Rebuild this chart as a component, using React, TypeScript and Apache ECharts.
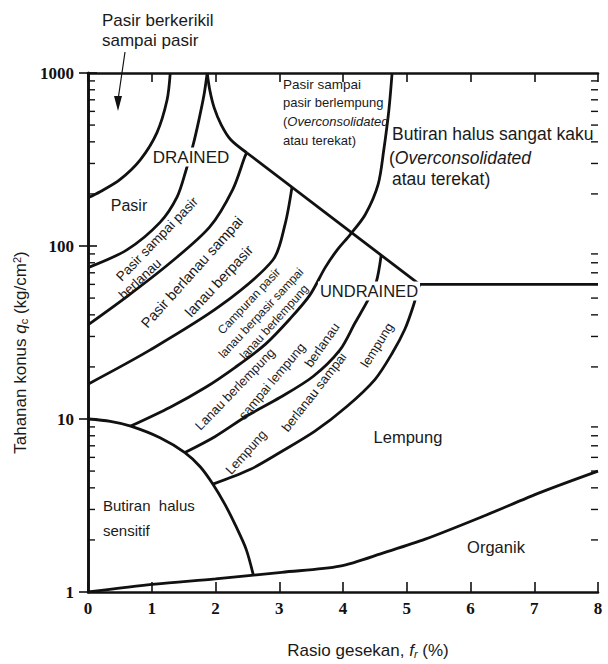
import React, { useEffect, useRef } from 'react';
import * as echarts from 'echarts';

// Axis ticks
const xTickValues = [0, 1, 2, 3, 4, 5, 6, 7, 8];
const yTickValues = [1, 10, 100, 1000];
const yMinorTickValues = [2, 3, 4, 5, 6, 7, 8, 9, 20, 30, 40, 50, 60, 70, 80, 90, 200, 300, 400, 500, 600, 700, 800, 900];

// Zone boundaries: [friction ratio fr (%), cone resistance qc (kg/cm2)]
const gravellySandBoundary = [[1.29, 1000], [1.24, 698], [1.08, 451], [0.82, 315], [0.5, 242], [0.19, 206], [0, 190]];
const sandBoundary = [[0, 75], [0.61, 95], [1.13, 137], [1.4, 193], [1.54, 276], [1.65, 385], [1.74, 536], [1.82, 748], [1.87, 1000]];
const siltySandBoundary = [[0, 35], [0.61, 51], [1.29, 80], [1.91, 129], [2.27, 212], [2.46, 328], [2.49, 346]];
const sandySiltBoundary = [[0, 15.9], [0.97, 25], [2.07, 45], [2.9, 83], [3.09, 133], [3.2, 219]];
const clayeySiltBoundary = [[0.67, 9.1], [1.29, 11.7], [1.84, 15.2], [2.31, 19.9], [2.78, 27], [3.17, 38], [3.48, 52], [3.72, 75], [3.91, 95], [4.11, 116], [4.35, 152], [4.55, 226], [4.64, 360], [4.72, 612], [4.77, 1000]];
const siltyClayBoundary = [[1.52, 6.4], [1.99, 7.9], [2.49, 10.4], [3.01, 13.3], [3.53, 17.6], [3.95, 25], [4.19, 36], [4.38, 47.8], [4.52, 61.5], [4.6, 89]];
const clayBoundary = [[1.96, 4.2], [2.54, 5.1], [3.01, 6.4], [3.56, 8.5], [4.06, 11.8], [4.5, 16.9], [4.78, 24.3], [4.97, 33], [5.1, 44.7], [5.2, 60]];
const sensitiveBoundary = [[0, 10], [0.35, 9.7], [0.67, 9.1], [1.13, 7.8], [1.52, 6.4], [1.76, 5.3], [1.96, 4.2], [2.15, 3.2], [2.32, 2.4], [2.48, 1.77], [2.59, 1.27]];
const organicBoundary = [[0, 1], [1.05, 1.11], [2, 1.19], [3.04, 1.3], [3.95, 1.41], [4.67, 1.7], [5.29, 2.02], [6.2, 2.74], [7.11, 3.78], [8, 5]];
const ocSandBoundary = [[1.87, 1000], [1.91, 798], [1.98, 629], [2.09, 502], [2.24, 411], [2.49, 346]];
const drainedLine = [[2.49, 346], [5.2, 60]];
const stiffLine = [[5.2, 60], [8, 60]];

const LABEL_FONT = '"Liberation Sans", Arial, sans-serif';
const TEXT_COLOR = '#1a1a1a';

type Lbl = { t: string; x: number; y: number; r?: number; s?: number; a?: string; bg?: boolean };

const labels: Lbl[] = [
  { t: 'Pasir berkerikil', x: 102, y: 20, s: 17, a: 'left' },
  { t: 'sampai pasir', x: 102, y: 40, s: 17, a: 'left' },
  { t: 'DRAINED', x: 191, y: 157, s: 17, bg: true },
  { t: 'Pasir', x: 129, y: 205, s: 16 },
  { t: 'Pasir sampai pasir', x: 157, y: 239, r: 46, s: 13.5 },
  { t: 'berlanau', x: 140, y: 279, r: 43, s: 13.5 },
  { t: 'Pasir berlanau sampai', x: 192, y: 272, r: 48, s: 14.5 },
  { t: 'lanau berpasir', x: 219, y: 281, r: 47, s: 14.5 },
  { t: 'Campuran pasir', x: 249, y: 301, r: 47, s: 12 },
  { t: 'lanau berpasir sampai', x: 261, y: 313, r: 47, s: 12 },
  { t: 'lanau berlempung', x: 274, y: 322, r: 48, s: 12 },
  { t: 'Lanau berlempung', x: 235, y: 389, r: 46, s: 13 },
  { t: 'sampai lempung', x: 272, y: 381, r: 50, s: 13 },
  { t: 'berlanau', x: 322, y: 345, r: 55, s: 13 },
  { t: 'Lempung', x: 246, y: 452, r: 48, s: 13 },
  { t: 'berlanau sampai', x: 314, y: 392, r: 52, s: 13 },
  { t: 'lempung', x: 377, y: 345, r: 58, s: 13 },
  { t: 'Lempung', x: 408, y: 437, s: 16.5 },
  { t: 'Butiran  halus', x: 103, y: 505, s: 15, a: 'left' },
  { t: 'sensitif', x: 103, y: 530, s: 15, a: 'left' },
  { t: 'Organik', x: 496, y: 547, s: 16.5 },
  { t: 'Butiran halus sangat kaku', x: 392, y: 134, s: 17.5, a: 'left' },
  { t: '({i|Overconsolidated}', x: 389, y: 158, s: 17.5, a: 'left' },
  { t: 'atau terekat)', x: 392, y: 179, s: 17.5, a: 'left' },
  { t: 'Pasir sampai', x: 283, y: 84, s: 13.5, a: 'left' },
  { t: 'pasir berlempung', x: 283, y: 102, s: 13, a: 'left' },
  { t: '({i|Overconsolidated}', x: 283, y: 121, s: 13, a: 'left' },
  { t: 'atau terekat)', x: 283, y: 140, s: 13, a: 'left' },
  { t: 'UNDRAINED', x: 369, y: 291, s: 16.5, bg: true },
];

const xMin = xTickValues[0];
const xMax = xTickValues[xTickValues.length - 1];

function baseGraphics(): any[] {
  const texts = labels.map((l) => {
    const size = l.s || 14;
    return {
      type: 'text',
      x: l.x,
      y: l.y,
      rotation: ((l.r || 0) * Math.PI) / 180,
      z: 100,
      silent: true,
      style: {
        text: l.t,
        font: `${size}px ${LABEL_FONT}`,
        fill: TEXT_COLOR,
        align: l.a || 'center',
        verticalAlign: 'middle',
        backgroundColor: l.bg ? '#fff' : undefined,
        padding: l.bg ? [1, 2] : 0,
        rich: {
          i: { font: `italic ${size}px ${LABEL_FONT}`, fill: TEXT_COLOR },
        },
      },
    };
  });
  return [
    ...texts,
    { type: 'line', z: 100, silent: true, shape: { x1: 125, y1: 52, x2: 118, y2: 100 }, style: { stroke: '#111', lineWidth: 1.2 } },
    { type: 'polygon', z: 100, silent: true, shape: { points: [[114, 96], [122, 96], [118, 111]] }, style: { fill: '#111' } },
  ];
}

function buildOption() {
  const boundary = (name: string, data: number[][], smooth: number | boolean = 0.3) => ({
    type: 'line',
    name,
    data,
    showSymbol: false,
    symbol: 'none',
    smooth,
    silent: true,
    z: 3,
    lineStyle: { color: '#111', width: 2.8 },
  });

  const axisLine = { show: true, lineStyle: { color: '#111', width: 2.6 } };
  const tickLabel = {
    fontFamily: '"Liberation Serif", "DejaVu Serif", serif',
    fontWeight: 'bold',
    fontSize: 17,
    color: '#111',
  };

  return {
    animation: false,
    backgroundColor: '#fff',
    grid: { left: 88, right: 10, top: 73, bottom: 71, containLabel: false },
    xAxis: [
      {
        type: 'value',
        min: xMin,
        max: xMax,
        interval: 1,
        position: 'bottom',
        axisLine,
        axisTick: { show: true, inside: true, length: 10, lineStyle: { color: '#111', width: 1.6 } },
        axisLabel: { ...tickLabel, margin: 8 },
        splitLine: { show: false },
        name: 'Rasio gesekan, {i|f}{s|r} (%)',
        nameLocation: 'middle',
        nameGap: 49,
        nameTextStyle: {
          fontFamily: LABEL_FONT,
          fontSize: 17,
          color: TEXT_COLOR,
          padding: [0, 0, 0, 50],
          rich: {
            i: { fontFamily: LABEL_FONT, fontSize: 17, fontStyle: 'italic', color: TEXT_COLOR },
            s: { fontFamily: LABEL_FONT, fontSize: 11, fontStyle: 'italic', color: TEXT_COLOR, verticalAlign: 'bottom', padding: [7, 0, 0, 0] },
          },
        },
      },
      {
        type: 'value',
        min: xMin,
        max: xMax,
        interval: 1,
        position: 'top',
        axisLine,
        axisTick: { show: true, inside: true, length: 9, lineStyle: { color: '#111', width: 1.6 } },
        axisLabel: { show: false },
        splitLine: { show: false },
      },
    ],
    yAxis: [
      {
        type: 'log',
        logBase: 10,
        min: yTickValues[0],
        max: yTickValues[yTickValues.length - 1],
        position: 'left',
        axisLine,
        axisTick: { show: true, inside: true, length: 9, lineStyle: { color: '#111', width: 1.6 } },
        axisLabel: { ...tickLabel, margin: 14, formatter: (v: number) => String(v) },
        splitLine: { show: false },
        name: 'Tahanan konus {i|q}{s|c} (kg/cm{p|2})',
        nameLocation: 'middle',
        nameGap: 47,
        nameTextStyle: {
          fontFamily: LABEL_FONT,
          fontSize: 17,
          color: TEXT_COLOR,
          padding: [0, 40, 0, 0],
          rich: {
            i: { fontFamily: LABEL_FONT, fontSize: 17, fontStyle: 'italic', color: TEXT_COLOR },
            s: { fontFamily: LABEL_FONT, fontSize: 11, color: TEXT_COLOR, verticalAlign: 'bottom', padding: [7, 0, 0, 0] },
            p: { fontFamily: LABEL_FONT, fontSize: 11, color: TEXT_COLOR, verticalAlign: 'top', padding: [0, 0, 7, 0] },
          },
        },
      },
      {
        type: 'log',
        logBase: 10,
        min: yTickValues[0],
        max: yTickValues[yTickValues.length - 1],
        position: 'right',
        axisLine,
        axisTick: { show: true, inside: true, length: 9, lineStyle: { color: '#111', width: 1.6 } },
        axisLabel: { show: false },
        splitLine: { show: false },
      },
    ],
    series: [
      boundary('Pasir berkerikil / Pasir', gravellySandBoundary),
      boundary('Pasir / Pasir sampai pasir berlanau', sandBoundary),
      boundary('Pasir sampai pasir berlanau / Pasir berlanau', siltySandBoundary),
      boundary('Pasir berlanau / Lanau berpasir', sandySiltBoundary),
      boundary('Lanau berpasir / Lanau berlempung', clayeySiltBoundary),
      boundary('Lanau berlempung / Lempung berlanau', siltyClayBoundary),
      boundary('Lempung berlanau / Lempung', clayBoundary),
      boundary('Butiran halus sensitif', sensitiveBoundary),
      boundary('Organik', organicBoundary),
      boundary('Pasir OC', ocSandBoundary),
      boundary('Drained / Undrained', drainedLine, false),
      boundary('Butiran halus sangat kaku', stiffLine, false),
    ],
    graphic: baseGraphics(),
  };
}

export default function App() {
  const ref = useRef<HTMLDivElement>(null);
  useEffect(() => {
    if (!ref.current) return;
    const chart = echarts.init(ref.current, null, { renderer: 'svg' });
    chart.setOption(buildOption() as any);
    // log-spaced minor ticks on the left and right frame, placed through the axis scale
    try {
      const ticks: any[] = [];
      yMinorTickValues.forEach((v) => {
        const l = chart.convertToPixel({ xAxisIndex: 0, yAxisIndex: 0 }, [xMin, v]) as any;
        const r = chart.convertToPixel({ xAxisIndex: 0, yAxisIndex: 0 }, [xMax, v]) as any;
        if (l && r && isFinite(l[1])) {
          ticks.push({ type: 'line', z: 50, silent: true, shape: { x1: l[0], y1: l[1], x2: l[0] + 7, y2: l[1] }, style: { stroke: '#111', lineWidth: 1.4 } });
          ticks.push({ type: 'line', z: 50, silent: true, shape: { x1: r[0] - 7, y1: r[1], x2: r[0], y2: r[1] }, style: { stroke: '#111', lineWidth: 1.4 } });
        }
      });
      if (ticks.length) chart.setOption({ graphic: [...baseGraphics(), ...ticks] } as any);
    } catch (e) {
      // ignore
    }
    return () => chart.dispose();
  }, []);
  return (
    <div
      ref={ref}
      style={{ position: 'fixed', left: 0, top: 0, width: 608, height: 664, background: '#fff' }}
    />
  );
}
